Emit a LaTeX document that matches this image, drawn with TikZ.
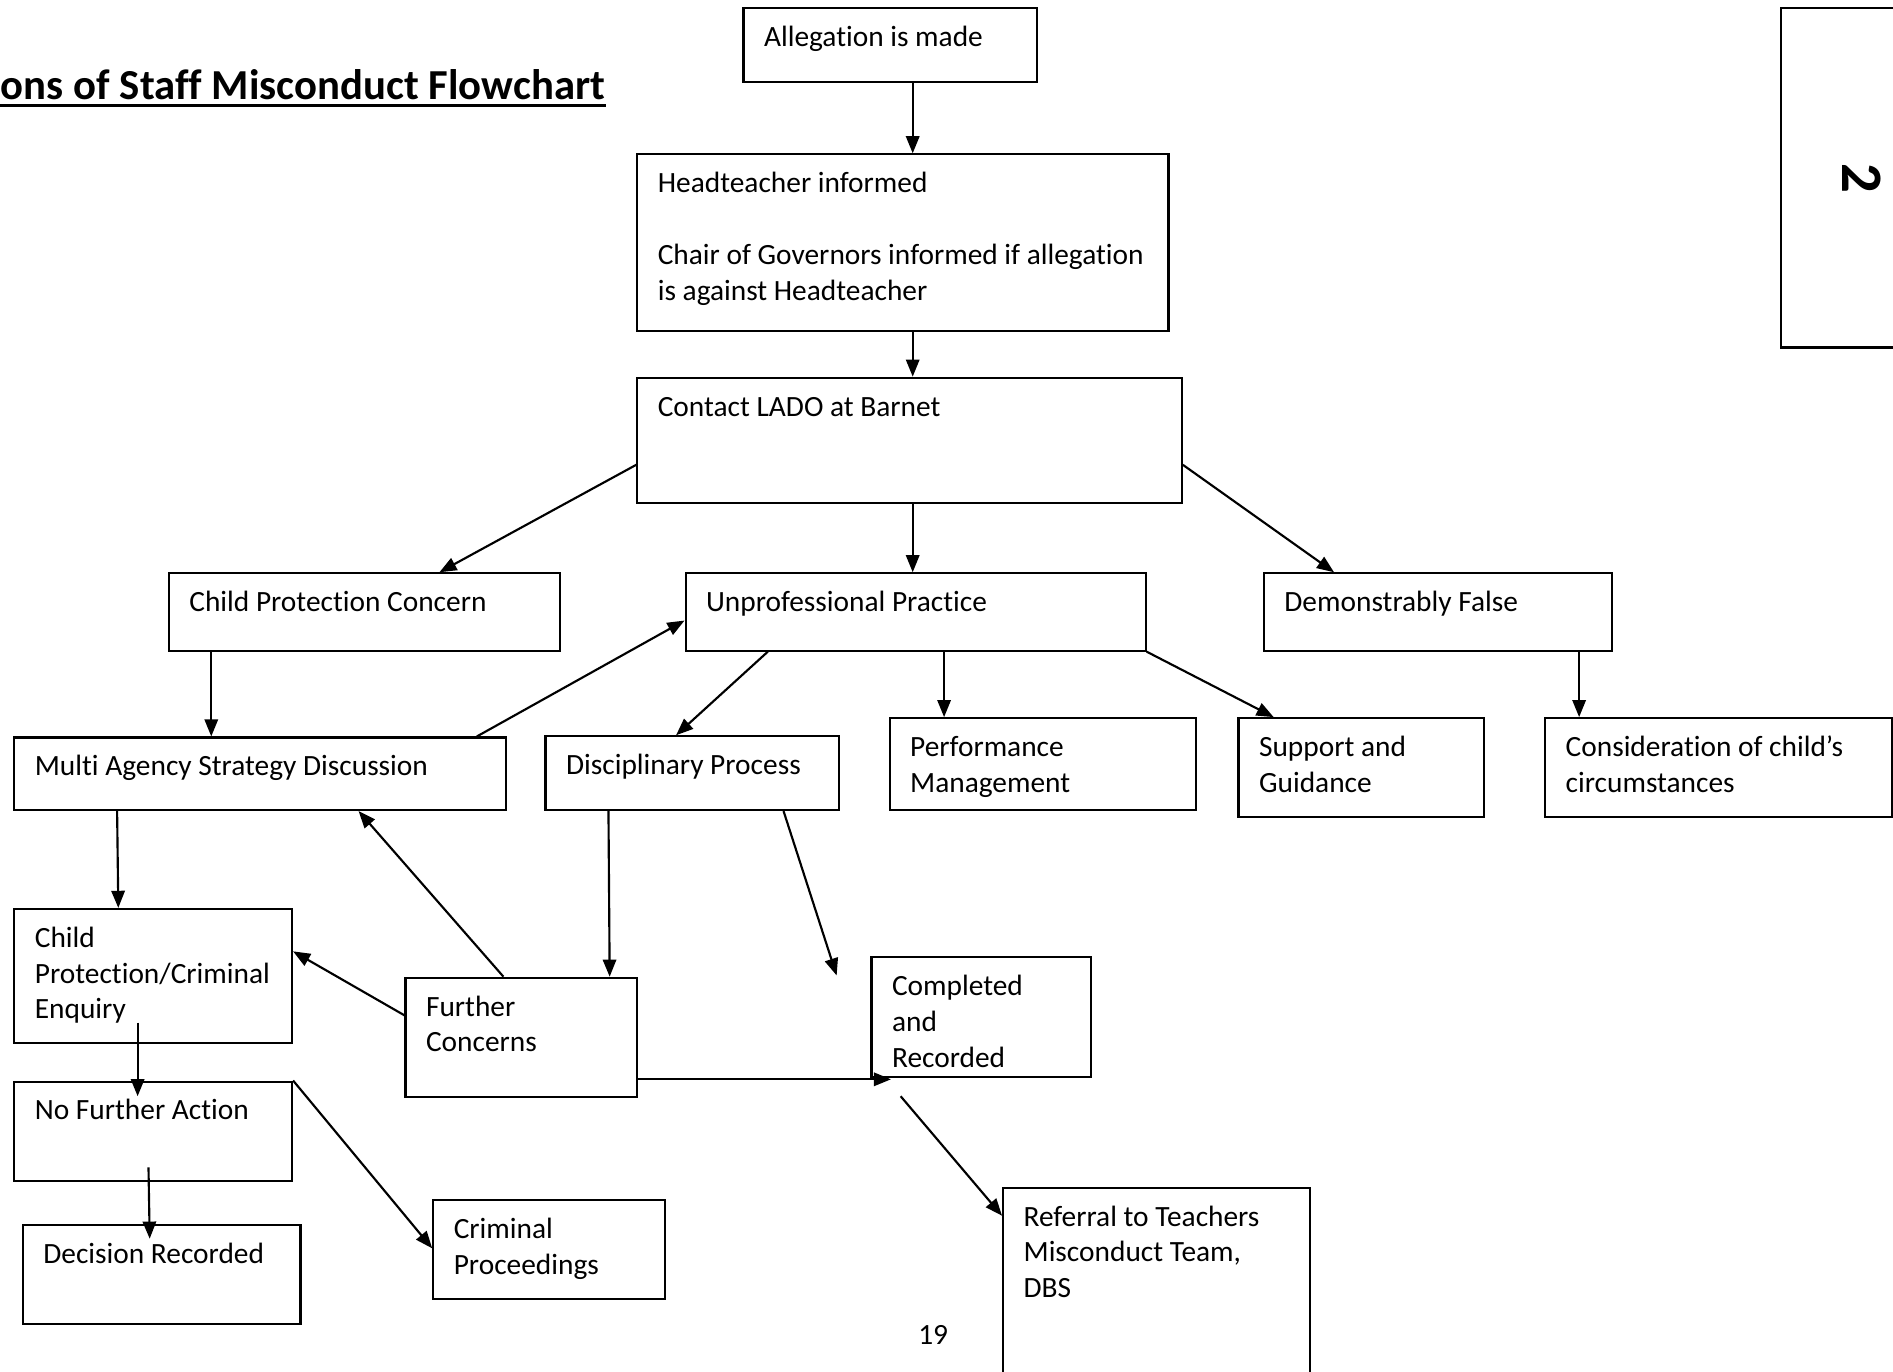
\documentclass[tikz,border=0pt]{standalone}
\usepackage{fontspec}
\setmainfont{Carlito}[Ligatures=NoCommon]
\usepackage{graphicx}
\usetikzlibrary{arrows.meta, positioning}

\newlength{\pxu}
\setlength{\pxu}{0.452pt}
% text of a box: width, height, lines
\newcommand{\boxtext}[3]{\parbox[t][#2\pxu][t]{#1\pxu}{\raggedright\leftskip=17\pxu\vspace*{11\pxu}\strut#3}}

\begin{document}
\begin{tikzpicture}[x=0.452pt, y=-0.452pt, ->, >={Triangle[length=6.4pt,width=5pt]}, line width=0.8pt,
    box/.style={draw, rectangle, anchor=north west, inner sep=0pt, font=\fontsize{11}{13.4}\selectfont},
    title/.style={inner sep=0pt, font=\fontsize{16}{19}\selectfont\bfseries}]

    \useasboundingbox (0,0) rectangle (1568,1136);

        \node[title, anchor=base east] (title) at (502,82) {ions of Staff Misconduct Flowchart};
        \draw[-, line width=1.1pt] ([yshift=-2.3pt]title.base west) -- ([yshift=-2.3pt]title.base east);

        \node[draw, anchor=north west, inner sep=0pt, minimum width=134*0.452pt, minimum height=281*0.452pt] (side) at (1474,6)
            {\rotatebox{-90}{\fontsize{22}{26}\selectfont\bfseries 2}};

        \node[box] (alleg)    at (615,6)    {\boxtext{243}{61}{Allegation is made}};
        \node[box] (head)     at (527,127)  {\boxtext{440}{146}{Headteacher informed\\[13.4pt]Chair of Governors informed if allegation\\is against Headteacher}};
        \node[box] (lado)     at (527,312)  {\boxtext{451}{104}{Contact LADO at Barnet}};
        \node[box] (cpc)      at (139,474)  {\boxtext{324}{64}{Child Protection Concern}};
        \node[box] (unprof)   at (567,474)  {\boxtext{381}{64}{Unprofessional Practice}};
        \node[box] (false)    at (1046,474) {\boxtext{288}{64}{Demonstrably False}};
        \node[box] (masd)     at (11,610)   {\boxtext{407}{60}{Multi Agency Strategy Discussion}};
        \node[box] (disc)     at (451,609)  {\boxtext{243}{61}{Disciplinary Process}};
        \node[box] (perf)     at (736,594)  {\boxtext{254}{76}{Performance\\Management}};
        \node[box] (support)  at (1025,594) {\boxtext{203}{82}{Support and\\Guidance}};
        \node[box] (consider) at (1279,594) {\boxtext{287}{82}{Consideration of child’s\\circumstances}};
        \node[box] (cpce)     at (11,752)   {\boxtext{230}{111}{Child\\Protection/Criminal\\Enquiry}};
        \node[box] (further)  at (335,809)  {\boxtext{192}{99}{Further\\Concerns}};
        \node[box] (record)   at (721,792)  {\boxtext{182}{99}{Completed\\and\\Recorded}};
        \node[box] (nfa)      at (11,895)   {\boxtext{230}{82}{No Further Action}};
        \node[box] (decided)  at (18,1014)  {\boxtext{230}{82}{Decision Recorded}};
        \node[box] (crim)     at (358,993)  {\boxtext{192}{82}{Criminal\\Proceedings}};
        \node[box] (refer)    at (830,983)  {\boxtext{254}{170}{Referral to Teachers\\Misconduct Team,\\DBS}};

        \node[font=\fontsize{11}{13.4}\selectfont] (pagenum) at (773,1106) {19};

        \coordinate (discend)    at (693,808);
        \coordinate (furtherend) at (738,894);
        \coordinate (enqstart)   at (114,847);
        \coordinate (nfatip)     at (114,908);
        \coordinate (nfastart)   at (123,967);
        \coordinate (dectip)     at (124,1026);
        \coordinate (recstart)   at (746,908);

          \path
            (alleg.south -| 756,0)  edge (head.north -| 756,0)
            (head.south -| 756,0)   edge (lado.north -| 756,0)
            (lado.west |- 0,385)    edge (cpc.north -| 364,0)
            (lado.south -| 756,0)   edge (unprof.north -| 756,0)
            (lado.east |- 0,385)    edge (false.north -| 1105,0)
            (cpc.south -| 175,0)    edge (masd.north -| 175,0)
            (masd.north -| 395,0)   edge (unprof.west |- 0,514)
            (unprof.south -| 636,0) edge (disc.north -| 560,0)
            (unprof.south -| 782,0) edge (perf.north -| 782,0)
            (unprof.south east)     edge (support.north -| 1055,0)
            (false.south -| 1308,0) edge (consider.north -| 1308,0)
            (masd.south -| 97,0)    edge (cpce.north -| 98,0)
            (further.north -| 417,0) edge (masd.south -| 297,0)
            (further.west |- 0,841) edge (cpce.east |- 0,788)
            (disc.south -| 504,0)   edge (further.north -| 505,0)
            (disc.south -| 649,0)   edge (discend)
            (further.east |- 0,894) edge (furtherend)
            (enqstart)              edge (nfatip)
            (nfastart)              edge (dectip)
            (nfa.north east)        edge (crim.west |- 0,1034)
            (recstart)              edge (refer.west |- 0,1007);
        \end{tikzpicture}
\end{document}
